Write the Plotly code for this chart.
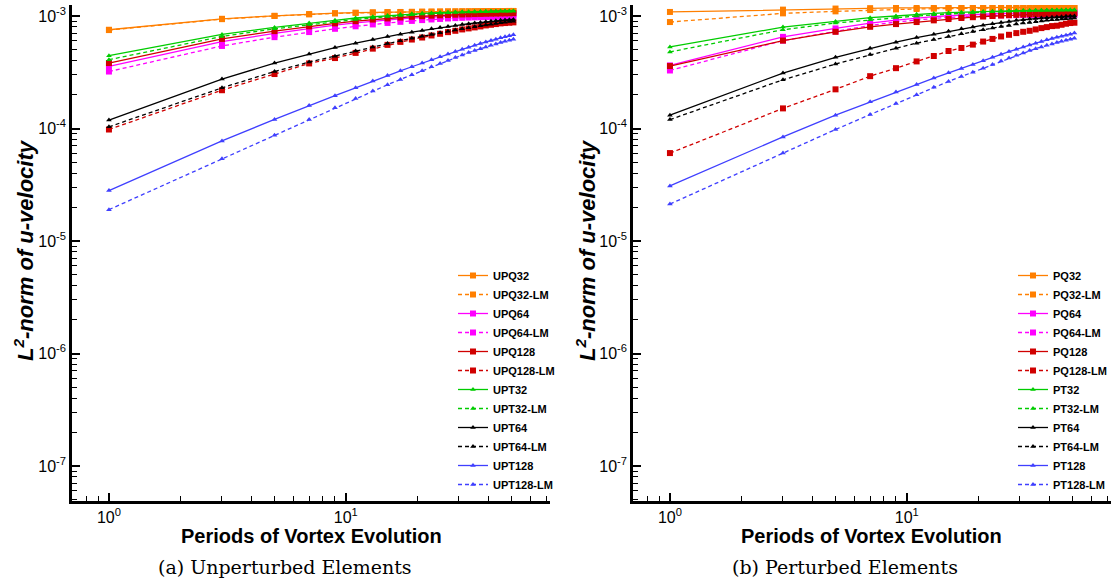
import plotly.graph_objects as go
from plotly.subplots import make_subplots

periods = [1, 3, 5, 7, 9, 11, 13, 15, 17, 19, 21, 23, 25, 27, 29, 31, 33, 35, 37, 39, 41, 43, 45, 47, 49, 51]

# ---------- (a) Unperturbed elements ----------
UPQ32 = [7.55e-4, 9.45e-4, 1.005e-3, 1.04e-3, 1.06e-3, 1.07e-3, 1.078e-3, 1.083e-3, 1.087e-3, 1.09e-3, 1.093e-3, 1.095e-3, 1.097e-3,
         1.099e-3, 1.10e-3, 1.102e-3, 1.103e-3, 1.104e-3, 1.105e-3, 1.106e-3, 1.107e-3, 1.108e-3, 1.108e-3, 1.109e-3, 1.11e-3, 1.11e-3]
UPQ32_LM = [7.5e-4, 9.38e-4, 1.0e-3, 1.035e-3, 1.055e-3, 1.066e-3, 1.074e-3, 1.08e-3, 1.084e-3, 1.087e-3, 1.09e-3, 1.092e-3, 1.094e-3,
            1.096e-3, 1.098e-3, 1.099e-3, 1.10e-3, 1.101e-3, 1.102e-3, 1.103e-3, 1.104e-3, 1.105e-3, 1.106e-3, 1.107e-3, 1.107e-3, 1.108e-3]
UPQ64 = [3.57e-4, 5.93e-4, 7.0e-4, 7.75e-4, 8.3e-4, 8.7e-4, 9.0e-4, 9.23e-4, 9.42e-4, 9.57e-4, 9.7e-4, 9.8e-4, 9.88e-4,
         9.95e-4, 1.001e-3, 1.006e-3, 1.011e-3, 1.015e-3, 1.019e-3, 1.022e-3, 1.025e-3, 1.028e-3, 1.03e-3, 1.032e-3, 1.034e-3, 1.035e-3]
UPQ64_LM = [3.21e-4, 5.42e-4, 6.49e-4, 7.2e-4, 7.7e-4, 8.1e-4, 8.42e-4, 8.68e-4, 8.88e-4, 9.05e-4, 9.2e-4, 9.32e-4, 9.42e-4,
            9.51e-4, 9.58e-4, 9.64e-4, 9.69e-4, 9.73e-4, 9.76e-4, 9.79e-4, 9.81e-4, 9.83e-4, 9.84e-4, 9.85e-4, 9.86e-4, 9.86e-4]
UPQ128 = [3.82e-4, 6.26e-4, 7.34e-4, 8.1e-4, 8.6e-4, 9.0e-4, 9.3e-4, 9.52e-4, 9.7e-4, 9.85e-4, 9.97e-4, 1.007e-3, 1.015e-3,
          1.022e-3, 1.028e-3, 1.033e-3, 1.037e-3, 1.041e-3, 1.044e-3, 1.047e-3, 1.05e-3, 1.052e-3, 1.054e-3, 1.056e-3, 1.058e-3, 1.06e-3]
UPQ128_LM = [9.8e-5, 2.19e-4, 3.05e-4, 3.79e-4, 4.23e-4, 4.7e-4, 5.13e-4, 5.54e-4, 5.89e-4, 6.18e-4, 6.44e-4, 6.72e-4, 6.95e-4,
             7.19e-4, 7.39e-4, 7.6e-4, 7.76e-4, 7.92e-4, 8.08e-4, 8.25e-4, 8.36e-4, 8.48e-4, 8.6e-4, 8.66e-4, 8.72e-4, 8.78e-4]
UPT32 = [4.44e-4, 6.86e-4, 7.92e-4, 8.66e-4, 9.15e-4, 9.6e-4, 9.86e-4, 1.01e-3, 1.03e-3, 1.045e-3, 1.057e-3, 1.066e-3, 1.074e-3,
         1.08e-3, 1.085e-3, 1.089e-3, 1.093e-3, 1.096e-3, 1.099e-3, 1.101e-3, 1.103e-3, 1.105e-3, 1.107e-3, 1.108e-3, 1.11e-3, 1.111e-3]
UPT32_LM = [4.09e-4, 6.58e-4, 7.7e-4, 8.4e-4, 8.9e-4, 9.3e-4, 9.62e-4, 9.88e-4, 1.01e-3, 1.027e-3, 1.041e-3, 1.052e-3, 1.061e-3,
            1.068e-3, 1.074e-3, 1.079e-3, 1.084e-3, 1.088e-3, 1.091e-3, 1.094e-3, 1.097e-3, 1.099e-3, 1.101e-3, 1.103e-3, 1.105e-3, 1.106e-3]
UPT64 = [1.19e-4, 2.75e-4, 3.82e-4, 4.6e-4, 5.24e-4, 5.74e-4, 6.18e-4, 6.58e-4, 6.9e-4, 7.19e-4, 7.44e-4, 7.7e-4, 7.92e-4,
         8.08e-4, 8.25e-4, 8.4e-4, 8.54e-4, 8.66e-4, 8.78e-4, 8.88e-4, 8.98e-4, 9.07e-4, 9.15e-4, 9.22e-4, 9.28e-4, 9.33e-4]
UPT64_LM = [1.035e-4, 2.30e-4, 3.21e-4, 3.9e-4, 4.4e-4, 4.88e-4, 5.3e-4, 5.7e-4, 6.04e-4, 6.33e-4, 6.6e-4, 6.86e-4, 7.1e-4,
            7.32e-4, 7.52e-4, 7.72e-4, 7.88e-4, 8.04e-4, 8.2e-4, 8.34e-4, 8.47e-4, 8.6e-4, 8.72e-4, 8.82e-4, 8.92e-4, 9.0e-4]
UPT128 = [2.81e-5, 7.76e-5, 1.205e-4, 1.60e-4, 1.96e-4, 2.30e-4, 2.64e-4, 2.96e-4, 3.26e-4, 3.54e-4, 3.82e-4, 4.09e-4, 4.35e-4,
          4.6e-4, 4.83e-4, 5.06e-4, 5.27e-4, 5.5e-4, 5.69e-4, 5.89e-4, 6.05e-4, 6.22e-4, 6.4e-4, 6.53e-4, 6.67e-4, 6.81e-4]
UPT128_LM = [1.90e-5, 5.38e-5, 8.7e-5, 1.2e-4, 1.53e-4, 1.85e-4, 2.16e-4, 2.45e-4, 2.73e-4, 3.0e-4, 3.26e-4, 3.54e-4, 3.79e-4,
             4.03e-4, 4.27e-4, 4.5e-4, 4.73e-4, 4.93e-4, 5.13e-4, 5.3e-4, 5.5e-4, 5.65e-4, 5.81e-4, 5.97e-4, 6.1e-4, 6.22e-4]

# ---------- (b) Perturbed elements ----------
PQ32 = [1.087e-3, 1.14e-3, 1.165e-3, 1.175e-3, 1.18e-3, 1.183e-3, 1.185e-3, 1.187e-3, 1.188e-3, 1.189e-3, 1.19e-3, 1.191e-3, 1.192e-3,
        1.193e-3, 1.194e-3, 1.195e-3, 1.195e-3, 1.196e-3, 1.197e-3, 1.197e-3, 1.198e-3, 1.198e-3, 1.199e-3, 1.199e-3, 1.2e-3, 1.2e-3]
PQ32_LM = [8.84e-4, 1.056e-3, 1.10e-3, 1.13e-3, 1.145e-3, 1.155e-3, 1.162e-3, 1.167e-3, 1.171e-3, 1.174e-3, 1.177e-3, 1.179e-3, 1.181e-3,
           1.183e-3, 1.185e-3, 1.186e-3, 1.188e-3, 1.189e-3, 1.19e-3, 1.191e-3, 1.192e-3, 1.193e-3, 1.194e-3, 1.195e-3, 1.196e-3, 1.197e-3]
PQ64 = [3.64e-4, 6.53e-4, 7.76e-4, 8.66e-4, 9.2e-4, 9.6e-4, 9.86e-4, 1.006e-3, 1.021e-3, 1.032e-3, 1.041e-3, 1.048e-3, 1.053e-3,
        1.057e-3, 1.06e-3, 1.063e-3, 1.065e-3, 1.067e-3, 1.069e-3, 1.07e-3, 1.071e-3, 1.072e-3, 1.073e-3, 1.074e-3, 1.075e-3, 1.075e-3]
PQ64_LM = [3.28e-4, 6.05e-4, 7.3e-4, 8.25e-4, 8.84e-4, 9.25e-4, 9.52e-4, 9.72e-4, 9.86e-4, 9.97e-4, 1.004e-3, 1.009e-3, 1.013e-3,
           1.016e-3, 1.018e-3, 1.02e-3, 1.021e-3, 1.022e-3, 1.023e-3, 1.024e-3, 1.024e-3, 1.025e-3, 1.025e-3, 1.026e-3, 1.026e-3, 1.026e-3]
PQ128 = [3.59e-4, 6.05e-4, 7.24e-4, 8.02e-4, 8.48e-4, 8.84e-4, 9.15e-4, 9.4e-4, 9.6e-4, 9.76e-4, 9.9e-4, 1.0e-3, 1.01e-3,
         1.018e-3, 1.025e-3, 1.03e-3, 1.035e-3, 1.039e-3, 1.043e-3, 1.046e-3, 1.049e-3, 1.051e-3, 1.053e-3, 1.055e-3, 1.057e-3, 1.059e-3]
PQ128_LM = [6.05e-5, 1.51e-4, 2.23e-4, 2.92e-4, 3.44e-4, 3.95e-4, 4.41e-4, 4.89e-4, 5.2e-4, 5.57e-4, 5.93e-4, 6.26e-4, 6.58e-4,
            6.81e-4, 7.05e-4, 7.24e-4, 7.39e-4, 7.6e-4, 7.81e-4, 7.97e-4, 8.14e-4, 8.2e-4, 8.36e-4, 8.54e-4, 8.66e-4, 8.72e-4]
PT32 = [5.31e-4, 7.97e-4, 8.96e-4, 9.66e-4, 1.0e-3, 1.035e-3, 1.055e-3, 1.07e-3, 1.082e-3, 1.091e-3, 1.098e-3, 1.104e-3, 1.109e-3,
        1.113e-3, 1.116e-3, 1.119e-3, 1.121e-3, 1.123e-3, 1.125e-3, 1.127e-3, 1.128e-3, 1.129e-3, 1.13e-3, 1.131e-3, 1.132e-3, 1.133e-3]
PT32_LM = [4.8e-4, 7.55e-4, 8.66e-4, 9.27e-4, 9.7e-4, 1.0e-3, 1.025e-3, 1.045e-3, 1.06e-3, 1.072e-3, 1.082e-3, 1.09e-3, 1.097e-3,
           1.103e-3, 1.108e-3, 1.112e-3, 1.115e-3, 1.118e-3, 1.121e-3, 1.123e-3, 1.125e-3, 1.127e-3, 1.128e-3, 1.129e-3, 1.13e-3, 1.131e-3]
PT64 = [1.315e-4, 3.11e-4, 4.3e-4, 5.17e-4, 5.85e-4, 6.44e-4, 6.9e-4, 7.34e-4, 7.7e-4, 7.97e-4, 8.3e-4, 8.54e-4, 8.78e-4,
        8.96e-4, 9.15e-4, 9.27e-4, 9.4e-4, 9.53e-4, 9.6e-4, 9.66e-4, 9.73e-4, 9.8e-4, 9.86e-4, 9.93e-4, 1.0e-3, 1.0e-3]
PT64_LM = [1.20e-4, 2.71e-4, 3.74e-4, 4.54e-4, 5.17e-4, 5.74e-4, 6.18e-4, 6.58e-4, 6.95e-4, 7.3e-4, 7.55e-4, 7.81e-4, 8.08e-4,
           8.25e-4, 8.48e-4, 8.66e-4, 8.78e-4, 8.9e-4, 9.03e-4, 9.15e-4, 9.27e-4, 9.33e-4, 9.4e-4, 9.46e-4, 9.53e-4, 9.6e-4]
PT128 = [3.09e-5, 8.42e-5, 1.315e-4, 1.73e-4, 2.11e-4, 2.46e-4, 2.81e-4, 3.13e-4, 3.42e-4, 3.71e-4, 4.01e-4, 4.29e-4, 4.57e-4,
         4.83e-4, 5.06e-4, 5.31e-4, 5.54e-4, 5.74e-4, 5.93e-4, 6.14e-4, 6.31e-4, 6.49e-4, 6.62e-4, 6.76e-4, 6.9e-4, 7.05e-4]
PT128_LM = [2.13e-5, 6.05e-5, 9.8e-5, 1.33e-4, 1.67e-4, 2.0e-4, 2.33e-4, 2.62e-4, 2.9e-4, 3.17e-4, 3.44e-4, 3.71e-4, 3.98e-4,
            4.23e-4, 4.47e-4, 4.7e-4, 4.93e-4, 5.13e-4, 5.31e-4, 5.5e-4, 5.65e-4, 5.81e-4, 5.97e-4, 6.1e-4, 6.22e-4, 6.36e-4]

left_series = [
    ("UPQ32", UPQ32), ("UPQ32-LM", UPQ32_LM), ("UPQ64", UPQ64), ("UPQ64-LM", UPQ64_LM),
    ("UPQ128", UPQ128), ("UPQ128-LM", UPQ128_LM), ("UPT32", UPT32), ("UPT32-LM", UPT32_LM),
    ("UPT64", UPT64), ("UPT64-LM", UPT64_LM), ("UPT128", UPT128), ("UPT128-LM", UPT128_LM),
]
right_series = [
    ("PQ32", PQ32), ("PQ32-LM", PQ32_LM), ("PQ64", PQ64), ("PQ64-LM", PQ64_LM),
    ("PQ128", PQ128), ("PQ128-LM", PQ128_LM), ("PT32", PT32), ("PT32-LM", PT32_LM),
    ("PT64", PT64), ("PT64-LM", PT64_LM), ("PT128", PT128), ("PT128-LM", PT128_LM),
]

colors = {"Q32": "#FF7F00", "Q64": "#FF00FF", "Q128": "#D00000",
          "T32": "#00CC00", "T64": "#000000", "T128": "#3F3FFF"}


def style(name):
    base = name.replace("-LM", "")
    key = "Q" + base.split("Q")[1] if "Q" in base else "T" + base.split("T")[1]
    is_q = key.startswith("Q")
    dashed = name.endswith("-LM")
    return dict(
        line=dict(color=colors[key], width=1.3, dash="4px,3px" if dashed else "solid"),
        marker=dict(symbol="square" if is_q else "triangle-up", size=6 if is_q else 5,
                    color=colors[key], line=dict(width=0)),
    )


fig = make_subplots(rows=1, cols=2)

for name, vals in left_series:
    fig.add_trace(go.Scatter(x=periods, y=vals, name=name, mode="lines+markers",
                             legend="legend", **style(name)), row=1, col=1)
for name, vals in right_series:
    fig.add_trace(go.Scatter(x=periods, y=vals, name=name, mode="lines+markers",
                             legend="legend2", **style(name)), row=1, col=2)

W, H = 1115, 585
ytop_px, ybot_px = 5, 501
ydom = [(H - ybot_px) / H, (H - ytop_px) / H]

ytickvals = [1e-7, 1e-6, 1e-5, 1e-4, 1e-3]
yticktext = ["10<sup>-7</sup>", "10<sup>-6</sup>", "10<sup>-5</sup>", "10<sup>-4</sup>", "10<sup>-3</sup>"]
xtickvals = [1, 10]
xticktext = ["10<sup>0</sup>", "10<sup>1</sup>"]
yminor = [m * 10.0 ** e for e in range(-8, -2) for m in range(2, 10)]
xminor = [m * 10.0 ** e for e in range(-1, 2) for m in range(2, 10)]

font_main = "Liberation Sans, Arial, Helvetica, sans-serif"
font_serif = "DejaVu Serif, Liberation Serif, serif"

common_x = dict(type="log", range=[-0.156, 1.862], showgrid=False, zeroline=False,
                showline=True, linewidth=2.5, linecolor="black", mirror=False,
                ticks="inside", ticklen=8, tickwidth=2, tickcolor="black",
                tickvals=xtickvals, ticktext=xticktext,
                tickfont=dict(family=font_main, size=16, color="black"),
                minor=dict(ticks="inside", ticklen=5, tickwidth=1.2, tickcolor="black", tickvals=xminor, showgrid=False))
common_y = dict(type="log", range=[-7.311, -2.902], showgrid=False, zeroline=False,
                showline=True, linewidth=2.5, linecolor="black", mirror=False,
                ticks="inside", ticklen=8, tickwidth=2, tickcolor="black",
                tickvals=ytickvals, ticktext=yticktext, domain=ydom,
                tickfont=dict(family=font_main, size=16, color="black"),
                minor=dict(ticks="inside", ticklen=5, tickwidth=1.2, tickcolor="black", tickvals=yminor, showgrid=False))

fig.update_xaxes(**common_x)
fig.update_yaxes(**common_y)
fig.update_xaxes(domain=[72 / W, 550 / W], row=1, col=1)
fig.update_xaxes(domain=[633 / W, 1111 / W], row=1, col=2)

xtitle = "<b>Periods of Vortex Evolution</b>"
ytitle = "<b><i>L<sup>2</sup>-norm of u-velocity</i></b>"


def ann(text, xpx, ypx, font, angle=0):
    return dict(text=text, x=xpx / W, y=(H - ypx) / H, xref="paper", yref="paper",
                xanchor="center", yanchor="middle", showarrow=False, textangle=angle, font=font)


title_font = dict(family=font_main, size=20, color="black")
ytitle_font = dict(family=font_main, size=22, color="black")
cap_font = dict(family=font_serif, size=19, color="black")

legend_common = dict(bgcolor="rgba(0,0,0,0)", borderwidth=0, xanchor="left", yanchor="bottom",
                     font=dict(family=font_main, size=11, color="black", weight="bold"),
                     tracegroupgap=0, itemwidth=30)
fig.update_layout(
    width=W, height=H, margin=dict(l=0, r=0, t=0, b=0),
    paper_bgcolor="white", plot_bgcolor="white",
    showlegend=True,
    legend=dict(x=453 / W, y=(H - 499) / H, **legend_common),
    legend2=dict(x=1013 / W, y=(H - 499) / H, **legend_common),
    annotations=[
        ann(xtitle, 311, 536, title_font),
        ann(xtitle, 871, 536, title_font),
        ann(ytitle, 24, 250, ytitle_font, -90),
        ann(ytitle, 586, 250, ytitle_font, -90),
        ann("(a) Unperturbed Elements", 285, 567, cap_font),
        ann("(b) Perturbed Elements", 845, 567, cap_font),
    ],
)

fig.write_html("out.html")
